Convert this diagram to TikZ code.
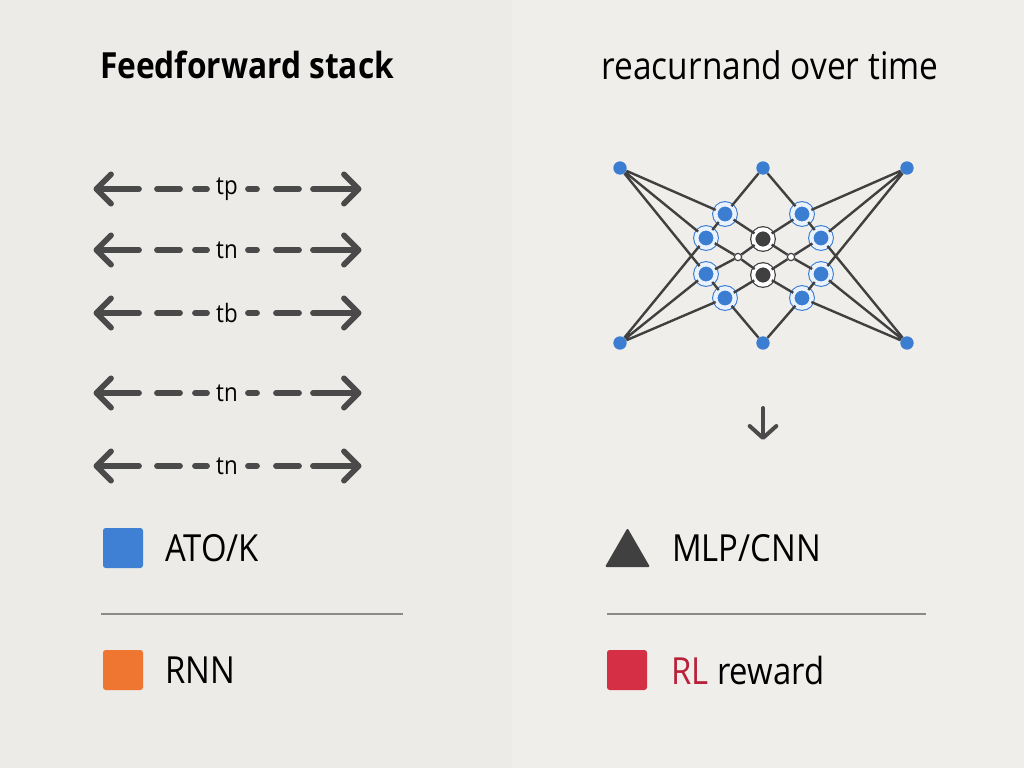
\documentclass[tikz,border=0pt]{standalone}
\usepackage{fontspec}
\setmainfont{Open Sans}[FakeStretch=0.88]
\usetikzlibrary{arrows.meta}
\definecolor{bgl}{HTML}{ECEBE7}
\definecolor{bgr}{HTML}{EFEEEB}
\definecolor{nblue}{HTML}{3B7DD0}
\definecolor{ringc}{HTML}{EAF3FD}
\definecolor{dk}{HTML}{404040}
\definecolor{ar}{HTML}{4A4A4A}
\definecolor{sqblue}{HTML}{3F7FD4}
\definecolor{sqorange}{HTML}{EE7630}
\definecolor{sqred}{HTML}{D42F45}
\definecolor{rltext}{HTML}{B8213A}
\definecolor{divc}{HTML}{8A8A8A}
\tikzset{
  outer/.style={circle,fill=nblue,inner sep=0pt,minimum size=10pt},
  ringn/.style={circle,fill=nblue,draw=nblue,double=ringc,double distance=3.2pt,line width=0.8pt,inner sep=0pt,minimum size=14.5pt},
  darkn/.style={circle,fill=dk,draw=dk,double=white,double distance=3pt,line width=0.9pt,inner sep=0pt,minimum size=14.5pt},
  tinyn/.style={circle,fill=white,draw=dk,line width=0.9pt,inner sep=0pt,minimum size=5.5pt},
  edge/.style={draw=dk,line width=1.8pt},
  harrow/.style={draw=ar,line width=4.3pt,line cap=round,-{Straight Barb[length=11pt,width=22pt,line width=4.3pt,round]}},
  albl/.style={font=\fontsize{19}{19}\selectfont,text=black,inner sep=0pt},
  legtxt/.style={font=\fontsize{28}{28}\selectfont,anchor=west,inner sep=0pt},
  sq/.style={rounded corners=2pt,minimum size=30pt,inner sep=0pt},
  divider/.style={draw=divc,line width=0.9pt}
}
\begin{document}
\begin{tikzpicture}[x=0.75pt,y=-0.75pt]
\useasboundingbox (0,0) rectangle (1024,768);
\fill[bgl] (0,0) rectangle (512,768);
\fill[bgr] (512,0) rectangle (1024,768);

% titles
\node[font=\fontsize{27}{27}\selectfont\bfseries] (t1) at (247,65) {Feedforward stack};
\node[font=\fontsize{28.5}{28.5}\selectfont] (t2) at (770,65) {reacurnand over time};

% left arrows
\foreach \i/\y/\lab in {1/189/tp,2/250/tn,3/313/tb,4/393/tn,5/466/tn}{
  \node[albl] (l\i) at (227,\y) {\lab};
  \coordinate (ls\i) at (207,\y);
  \coordinate (le\i) at (93.5,\y);
  \coordinate (rs\i) at (248,\y);
  \coordinate (re\i) at (361.5,\y);
  \draw[harrow,dash pattern=on 9pt off 11.25pt on 17.25pt off 13.5pt on 150pt] (ls\i) -- (le\i);
  \draw[harrow,dash pattern=on 6.75pt off 14.25pt on 17.25pt off 10.5pt on 150pt] (rs\i) -- (re\i);
}

% network nodes
\node[outer] (TL) at (620,168) {};
\node[outer] (TM) at (763,168) {};
\node[outer] (TR) at (907,168) {};
\node[outer] (BL) at (620,343) {};
\node[outer] (BM) at (763,343) {};
\node[outer] (BR) at (907,343) {};
\node[ringn] (A1) at (725,214) {};
\node[ringn] (A2) at (706,238) {};
\node[ringn] (A3) at (706,274) {};
\node[ringn] (A4) at (725,298) {};
\node[ringn] (B1) at (802,214) {};
\node[ringn] (B2) at (821,238) {};
\node[ringn] (B3) at (821,274) {};
\node[ringn] (B4) at (802,298) {};
\node[darkn] (C1) at (763,239) {};
\node[darkn] (C2) at (763,275) {};
\node[tinyn] (S1) at (738,257) {};
\node[tinyn] (S2) at (791,257) {};

\path[edge]
  (TL) -- (A1) (TL) -- (A2) (TL) -- (A3) (A3) -- (A4)
  (BL) -- (A4) (BL) -- (A3) (BL) -- (A2) (A2) -- (A1)
  (TR) -- (B1) (TR) -- (B2) (TR) -- (B3) (B3) -- (B4)
  (BR) -- (B4) (BR) -- (B3) (BR) -- (B2) (B2) -- (B1)
  (TM) -- (A1) (TM) -- (B1) (BM) -- (A4) (BM) -- (B4)
  (A1) -- (C1) (A4) -- (C2) (B1) -- (C1) (B4) -- (C2)
  (A2) -- (S1) (S1) -- (C2) (A3) -- (S1) (S1) -- (C1)
  (B2) -- (S2) (S2) -- (C2) (B3) -- (S2) (S2) -- (C1);

% down arrow
\coordinate (da1) at (763,408);
\coordinate (da2) at (763,440);
\draw[draw=ar,line width=3pt,line cap=round,-{Straight Barb[length=9pt,width=20pt,line width=3pt,round]}] (da1) -- (da2);

% legend
\node[sq,fill=sqblue] (q1) at (123,548) {};
\node[legtxt] (q1t) at (165,548) {ATO/K};
\node[sq,fill=sqorange] (q2) at (123,670) {};
\node[legtxt] (q2t) at (165,670) {RNN};
\fill[dk,rounded corners=1pt] (605,567) -- (650,567) -- (627.5,528) -- cycle;
\node[legtxt] (q3t) at (672,548) {MLP/CNN};
\node[sq,fill=sqred] (q4) at (627,670) {};
\node[legtxt] (q4t) at (671,670) {\textcolor{rltext}{RL} reward};

\coordinate (d1a) at (101,614);
\coordinate (d1b) at (403,614);
\coordinate (d2a) at (607,614);
\coordinate (d2b) at (926,614);
\draw[divider] (d1a) -- (d1b);
\draw[divider] (d2a) -- (d2b);
\end{tikzpicture}
\end{document}
